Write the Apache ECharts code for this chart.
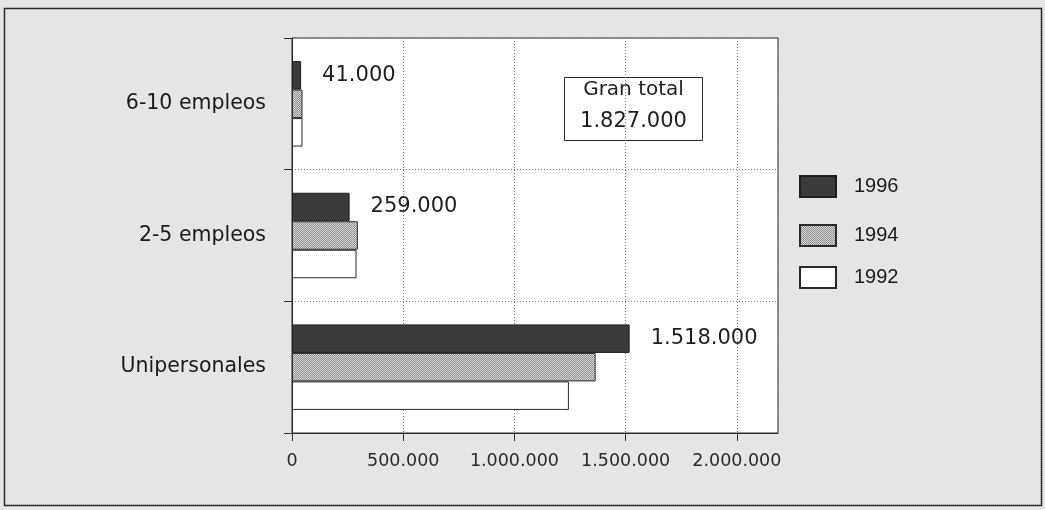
<!DOCTYPE html>
<html>
<head>
<meta charset="utf-8">
<script src="https://cdn.jsdelivr.net/npm/echarts@6/dist/echarts.min.js"></script>
<style>
  html, body { margin: 0; padding: 0; }
  body {
    width: 1045px; height: 510px;
    background-color: #e6e6e6;
    background-image: repeating-conic-gradient(#dcdcdc 0 25%, #efefef 0 50%);
    background-size: 2px 2px;
  }
  #chart { width: 1045px; height: 510px; }
</style>
</head>
<body>
<div id="chart"></div>
<script>
// Microempresas por tamaño (número de empleos)
const categories = ['6-10 empleos', '2-5 empleos', 'Unipersonales'];
const years = ['1996', '1994', '1992'];
const values1996 = [41000, 259000, 1518000];
const values1994 = [47000, 296000, 1365000];
const values1992 = [47000, 290000, 1245000];
const xTicks = [0, 500000, 1000000, 1500000, 2000000];
const granTotal = 1827000;

// Thousands separated by dots
function fmt(v) {
  return String(v).replace(/\B(?=(\d{3})+(?!\d))/g, '.');
}

// Small stippled fill for the 1994 bars
function stipple(a, b) {
  const c = document.createElement('canvas');
  c.width = 2; c.height = 2;
  const g = c.getContext('2d');
  g.fillStyle = a; g.fillRect(0, 0, 2, 2);
  g.fillStyle = b; g.fillRect(0, 0, 1, 1); g.fillRect(1, 1, 1, 1);
  return c;
}
const stippleFill = { image: stipple('#8e8e8e', '#d8d8d8'), repeat: 'repeat' };

const labelFont = 'DejaVu Sans, Verdana, sans-serif';
const legendFont = 'Liberation Sans, Arial, sans-serif';

const chart = echarts.init(document.getElementById('chart'), null, { renderer: 'canvas' });

const legendTops = [170, 219, 261];
const legends = years.map((y, i) => ({
  data: [y],
  orient: 'vertical',
  left: 794,
  top: legendTops[i],
  itemWidth: 36,
  itemHeight: 21,
  selectedMode: false,
  icon: 'rect',
  textStyle: { fontFamily: legendFont, fontSize: 20, color: '#1a1a1a', padding: [0, 0, 0, 13] }
}));

const barBase = { type: 'bar', barWidth: 28.5, barGap: '0%', animation: false };

chart.setOption({
  animation: false,
  legend: legends,
  grid: {
    left: 292, right: 267, top: 38, bottom: 77,
    show: true, backgroundColor: '#ffffff', borderColor: '#2a2a2a', borderWidth: 1
  },
  xAxis: {
    type: 'value',
    min: 0, max: 2185000, interval: 500000,
    axisLine: { show: true, lineStyle: { color: '#2a2a2a', width: 1 } },
    axisTick: { show: true, length: 8, lineStyle: { color: '#2a2a2a' } },
    axisLabel: {
      margin: 19, fontFamily: labelFont, fontSize: 17.5, color: '#2a2a2a',
      showMaxLabel: false,
      formatter: v => (xTicks.indexOf(v) >= 0 ? fmt(v) : '')
    },
    splitLine: { show: true, lineStyle: { color: '#7a7a7a', type: [1, 2], width: 1 } }
  },
  yAxis: {
    type: 'category',
    inverse: true,
    data: categories,
    axisLine: { show: true, lineStyle: { color: '#2a2a2a', width: 1 } },
    axisTick: { show: true, length: 8, alignWithLabel: false, lineStyle: { color: '#2a2a2a' } },
    axisLabel: { margin: 26, fontFamily: labelFont, fontSize: 20.5, color: '#1a1a1a', padding: [5, 0, 0, 0] },
    splitLine: { show: true, lineStyle: { color: '#7a7a7a', type: [1, 2], width: 1 } }
  },
  series: [
    Object.assign({}, barBase, {
      name: '1996', data: values1996,
      itemStyle: { color: '#3b3b3b', borderColor: '#1e1e1e', borderWidth: 1 },
      label: {
        show: true, position: 'right', distance: 21,
        fontFamily: labelFont, fontSize: 21, color: '#1e1e1e',
        formatter: p => fmt(p.value)
      }
    }),
    Object.assign({}, barBase, {
      name: '1994', data: values1994,
      itemStyle: { color: stippleFill, borderColor: '#2a2a2a', borderWidth: 1 }
    }),
    Object.assign({}, barBase, {
      name: '1992', data: values1992,
      itemStyle: { color: '#ffffff', borderColor: '#2a2a2a', borderWidth: 1 }
    })
  ],
  graphic: [
    {
      type: 'rect', silent: true, z: -1,
      shape: { x: 4.5, y: 8.5, width: 1037, height: 497 },
      style: { fill: 'none', stroke: '#2a2a2a', lineWidth: 1.5 }
    },
    {
      type: 'group', left: 564, top: 77,
      children: [
        {
          type: 'rect',
          shape: { x: 0.5, y: 0.5, width: 138, height: 63 },
          style: { fill: '#ffffff', stroke: '#2a2a2a', lineWidth: 1 }
        },
        {
          type: 'text', x: 69.5, y: 13,
          style: { text: 'Gran total', fontFamily: labelFont, fontSize: 20, fill: '#1e1e1e', textAlign: 'center', textVerticalAlign: 'middle' }
        },
        {
          type: 'text', x: 69.5, y: 45,
          style: { text: fmt(granTotal), fontFamily: labelFont, fontSize: 21, fill: '#1e1e1e', textAlign: 'center', textVerticalAlign: 'middle' }
        }
      ]
    }
  ]
});
</script>
</body>
</html>
